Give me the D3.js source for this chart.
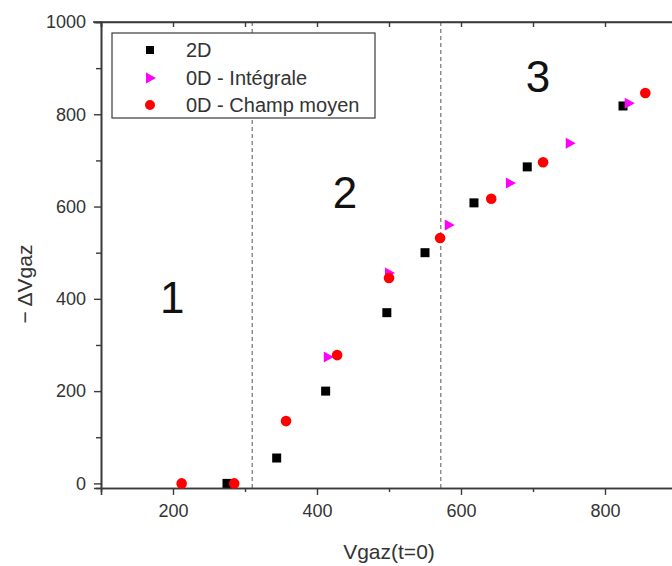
<!DOCTYPE html>
<html><head><meta charset="utf-8">
<script src="https://cdn.jsdelivr.net/npm/d3@7"></script>
<style>html,body{margin:0;padding:0;background:#fff;}svg{display:block;font-family:"Liberation Sans",Arial,sans-serif;}</style>
</head><body>
<svg id="c" width="672" height="566"></svg>
<script>
// ---- data ----
const series2D_x = [275, 344, 412, 497, 550, 618, 692, 825];
const series2D_y = [0, 55, 200, 370, 500, 608, 686, 818];
const seriesInt_x = [415, 500, 583, 668, 751, 833];
const seriesInt_y = [274, 456, 560, 651, 737, 824];
const seriesCM_x = [212, 285, 357, 428, 500, 571, 642, 714, 856];
const seriesCM_y = [0, 0, 135, 278, 445, 532, 617, 696, 846];
const seriesNames = ["2D", "0D - Intégrale", "0D - Champ moyen"];
const xTicks = [200, 400, 600, 800];
const xMinor = [300, 500, 700];
const yTicks = [0, 200, 400, 600, 800, 1000];
const yMinor = [100, 300, 500, 700, 900];
const topTicks = [100, 200, 300, 400, 500, 600, 700, 800, 900];
const dividers = [310, 572];
const regionNames = ["1", "2", "3"];
const regionX = [199, 439, 707];
const regionY = [402, 630, 881];
const xTitle = "Vgaz(t=0)";
const yTitle = "\u2212 \u0394Vgaz";

// ---- drawing ----
const svg = d3.select("#c");
const x = d3.scaleLinear().domain([100, 900]).range([101, 677]);
const y = d3.scaleLinear().domain([-10, 1000]).range([488, 22]);
const axisColor = "#3a3a3a";
const textColor = "#333";

// dividers
svg.append("g").selectAll("line").data(dividers).join("line")
  .attr("x1", d => x(d)).attr("x2", d => x(d))
  .attr("y1", y(1000)).attr("y2", y(-10))
  .attr("stroke", "#555").attr("stroke-width", 1).attr("stroke-dasharray", "4,3");

// axes
svg.append("g").attr("transform", `translate(0,${y(-10)})`)
  .call(d3.axisBottom(x).tickValues(xTicks).tickSize(7).tickPadding(9).tickFormat(d3.format("d")));
svg.append("g").attr("transform", `translate(0,${y(-10)})`)
  .call(d3.axisBottom(x).tickValues(xMinor).tickSize(4).tickFormat(""));
svg.append("g").attr("transform", `translate(${x(100)},0)`)
  .call(d3.axisLeft(y).tickValues(yTicks).tickSize(7).tickPadding(8).tickFormat(d3.format("d")));
svg.append("g").attr("transform", `translate(${x(100)},0)`)
  .call(d3.axisLeft(y).tickValues(yMinor).tickSize(5).tickFormat(""));
svg.append("g").attr("transform", `translate(0,${y(1000)})`)
  .call(d3.axisBottom(x).tickValues(topTicks).tickSize(5).tickFormat(""));
svg.append("g").attr("transform", `translate(${x(900)},0)`)
  .call(d3.axisRight(y).tickValues(yTicks).tickSize(0).tickFormat(""));
svg.selectAll(".domain").attr("stroke", axisColor).attr("stroke-width", 1.6);
svg.selectAll(".tick line").attr("stroke", axisColor).attr("stroke-width", 1.4);
svg.selectAll(".tick text").attr("fill", textColor).style("font-size", "18px").style("font-family", "Liberation Sans, Arial, sans-serif");
// top axis line
svg.append("line").attr("x1", x(100) - 8).attr("x2", x(900)).attr("y1", y(1000)).attr("y2", y(1000))
  .attr("stroke", axisColor).attr("stroke-width", 1.6);

// titles
svg.append("text").attr("x", 389).attr("y", 551).attr("text-anchor", "middle").attr("dominant-baseline", "central")
  .attr("fill", textColor).style("font-size", "21px").text(xTitle);
svg.append("text").attr("transform", `translate(24,284) rotate(-90)`).attr("text-anchor", "middle").attr("dominant-baseline", "central")
  .attr("fill", textColor).style("font-size", "21px").text(yTitle);

// region labels
svg.append("g").selectAll("text").data(regionNames).join("text")
  .attr("x", (d, i) => x(regionX[i])).attr("y", (d, i) => y(regionY[i]))
  .attr("text-anchor", "middle").attr("dominant-baseline", "central")
  .attr("fill", "#111").style("font-size", "44px").text(d => d);

// markers
const tri = "M-4,-5.5L6,0L-4,5.5Z";
const d2 = series2D_x.map((v, i) => [v, series2D_y[i]]);
const dI = seriesInt_x.map((v, i) => [v, seriesInt_y[i]]);
const dC = seriesCM_x.map((v, i) => [v, seriesCM_y[i]]);
svg.append("g").selectAll("rect").data(d2).join("rect")
  .attr("x", d => x(d[0]) - 4.5).attr("y", d => y(d[1]) - 4.5).attr("width", 9).attr("height", 9).attr("fill", "#000");
svg.append("g").selectAll("path").data(dI).join("path")
  .attr("d", tri).attr("transform", d => `translate(${x(d[0])},${y(d[1])})`).attr("fill", "#ff00ff");
svg.append("g").selectAll("circle").data(dC).join("circle")
  .attr("cx", d => x(d[0])).attr("cy", d => y(d[1])).attr("r", 5.3).attr("fill", "#ff0000");

// legend
const lg = svg.append("g");
lg.append("rect").attr("x", 112).attr("y", 33).attr("width", 263).attr("height", 85)
  .attr("fill", "#fff").attr("stroke", axisColor).attr("stroke-width", 1.2);
const rows = [50, 78, 105];
lg.append("rect").attr("x", 146).attr("y", rows[0] - 4).attr("width", 8).attr("height", 8).attr("fill", "#000");
lg.append("path").attr("d", tri).attr("transform", `translate(150,${rows[1]})`).attr("fill", "#ff00ff");
lg.append("circle").attr("cx", 150).attr("cy", rows[2]).attr("r", 5).attr("fill", "#ff0000");
lg.selectAll("text").data(seriesNames).join("text")
  .attr("x", 186).attr("y", (d, i) => rows[i]).attr("dominant-baseline", "central")
  .attr("fill", textColor).style("font-size", "20px").text(d => d);
</script>
</body></html>
